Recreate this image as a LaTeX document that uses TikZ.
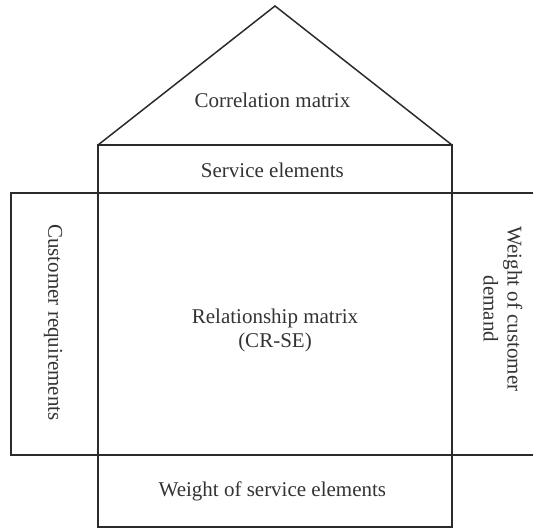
\documentclass[tikz,border=0pt]{standalone}
\usepackage{fontspec}
\setmainfont{Liberation Serif}
\usepackage{xcolor}
\usepackage{tikz}
\usetikzlibrary{
  positioning
}
\definecolor{LineGray}{HTML}{2B2B2B}
\definecolor{TextGray}{HTML}{333333}
\tikzset{
  wall/.style={
    draw=LineGray,
    line width=0.75pt
  },
  housetext/.style={
    text=TextGray,
    align=center,
    inner sep=1pt,
    font=\fontsize{10.5}{12}\selectfont
  }
}
\begin{document}
\begin{tikzpicture}[
  x=0.5pt,
  y=-0.5pt
]

  \useasboundingbox (0,0) rectangle (533,529);

  % roof and columns
  \draw[wall]
  (98,145) --
  (275,6) --
  (452,145);

  \draw[wall]
  (98,145) rectangle
  (452,527);

  \draw[wall]
  (11,193) rectangle
  (98,455);

  \draw[wall]
  (98,193) --
  (533,193);

  \draw[wall]
  (98,455) --
  (533,455);

  \node[
    housetext
  ] (corr) at (275,100) {
    Correlation matrix
  };

  \node[
    housetext
  ] (service) at (275,170) {
    Service elements
  };

  \node[
    housetext
  ] (relation) at (275,330) {
    Relationship matrix\\(CR-SE)
  };

  \node[
    housetext,
    rotate=-90
  ] (custreq) at (53,325) {
    Customer requirements
  };

  \node[
    housetext,
    rotate=-90
  ] (custweight) at (503,309) {
    Weight of customer\\demand
  };

  \node[
    housetext
  ] (serviceweight) at (275,491) {
    Weight of service elements
  };

\end{tikzpicture}
\end{document}
